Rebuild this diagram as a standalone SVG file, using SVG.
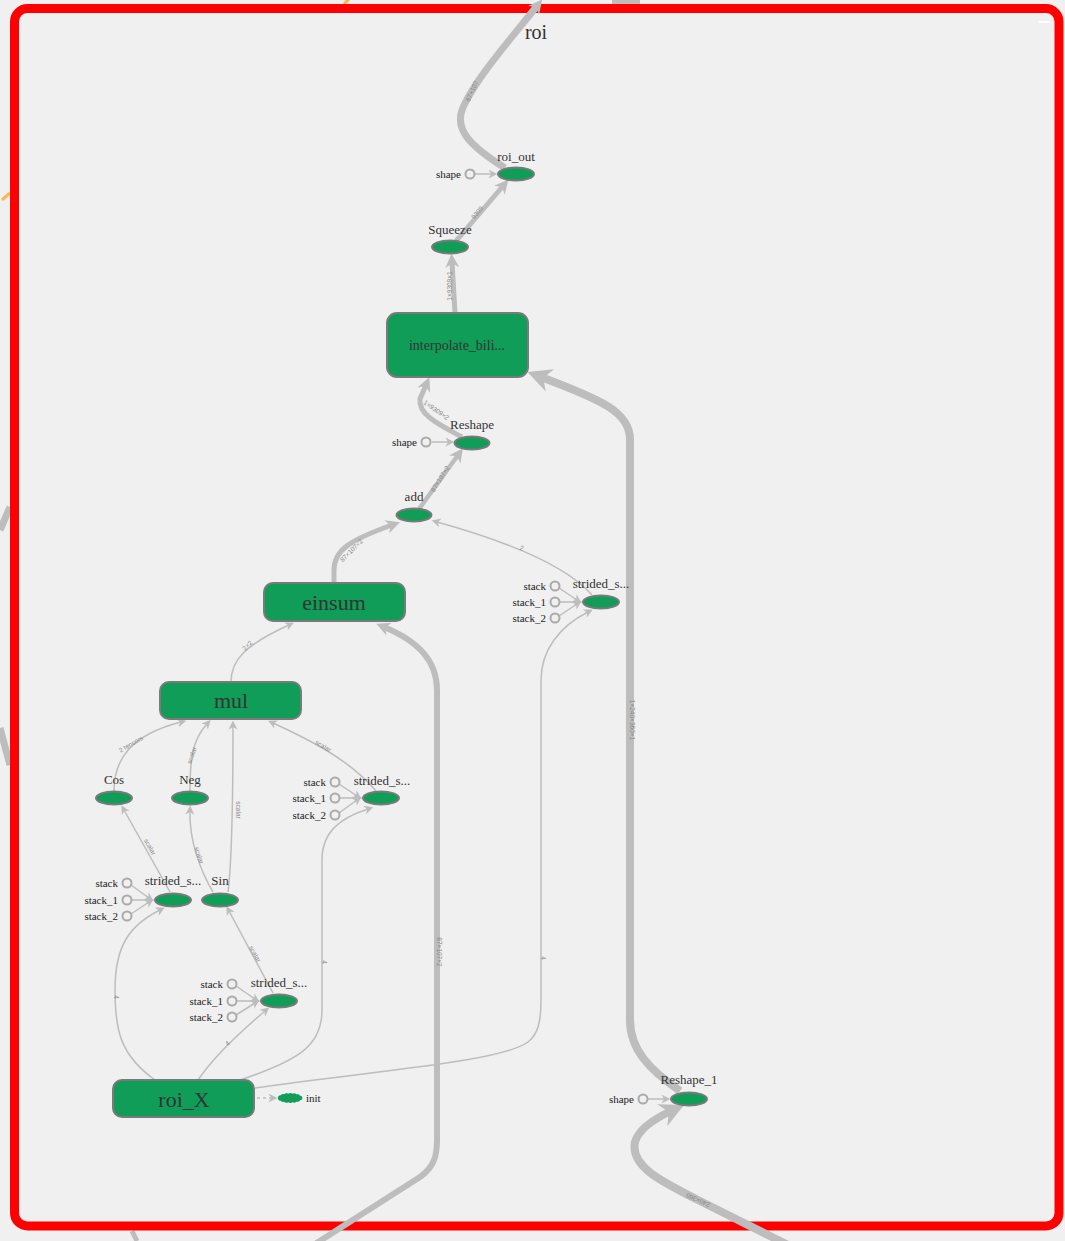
<svg xmlns="http://www.w3.org/2000/svg" width="1065" height="1241" viewBox="0 0 1065 1241">
<style>
  .bg{fill:#f0f0f0}
  .frame{fill:#f0f0f0;stroke:#ff0000;stroke-width:9}
  .op{fill:#0f9d58;stroke:#7a7a7a;stroke-width:2}
  .meta{fill:#0f9d58;stroke:#7a7a7a;stroke-width:2}
  .const{fill:none;stroke:#aaaaaa;stroke-width:2}
  .lbl{font-family:"Liberation Serif","Times New Roman",serif;font-size:13px;fill:#333;text-anchor:middle}
  .big{font-family:"Liberation Serif","Times New Roman",serif;font-size:22px;fill:#333;text-anchor:middle}
  .mid{font-family:"Liberation Serif","Times New Roman",serif;font-size:14px;fill:#333;text-anchor:middle}
  .sl{font-family:"Liberation Serif","Times New Roman",serif;font-size:11px;fill:#222;text-anchor:end}
  .el{font-family:"Liberation Sans",Arial,sans-serif;font-size:6.5px;fill:#888;text-anchor:middle}
  .e{fill:none;stroke:#bdbdbd}
  .thin{stroke-width:1.5}
</style>
<defs>
  <marker id="at" markerUnits="userSpaceOnUse" markerWidth="10" markerHeight="9" viewBox="0 0 10 10" refX="4" refY="5" orient="auto"><path d="M0,0 L10,5 L0,10 L3,5 z" fill="#bdbdbd"/></marker>
  <marker id="am" markerUnits="userSpaceOnUse" markerWidth="16" markerHeight="14" viewBox="0 0 10 10" refX="4" refY="5" orient="auto"><path d="M0,0 L10,5 L0,10 L3,5 z" fill="#bdbdbd"/></marker>
  <marker id="ab" markerUnits="userSpaceOnUse" markerWidth="26" markerHeight="24" viewBox="0 0 10 10" refX="4" refY="5" orient="auto"><path d="M0,0 L10,5 L0,10 L3,5 z" fill="#bdbdbd"/></marker>
</defs>
<rect class="bg" x="0" y="0" width="1065" height="1241"/>
<!-- fragments outside the frame -->
<g id="outside">
  <path d="M612,2 L640,2" stroke="#bdbdbd" stroke-width="5" fill="none"/>
  <path d="M344,4 L350,-2" stroke="#ffb74d" stroke-width="3" fill="none"/>
  <path d="M2,200 L10,193" stroke="#ffb74d" stroke-width="3" fill="none"/>
  <path d="M0,530 L10,507" stroke="#bdbdbd" stroke-width="7" fill="none"/>
  <path d="M0,728 L10,765" stroke="#bdbdbd" stroke-width="7" fill="none"/>
  <path d="M132,1231 L137,1241" stroke="#bdbdbd" stroke-width="5" fill="none"/>
</g>
<rect class="frame" x="14.5" y="8.5" width="1044.5" height="1217.5" rx="13"/>
<rect x="1039" y="21" width="11" height="2" fill="#ffffff"/>

<g id="connectors">
  <!-- roi_out -> roi (out) -->
  <path class="e" stroke-width="7" d="M505,168 C470,146 455,130 462,110 C474,80 514,35 537,6" marker-end="url(#am)"/>
  <text class="el" transform="translate(474,92) rotate(-65)">87×107</text>
  <!-- Squeeze -> roi_out -->
  <path class="e" stroke-width="5" d="M456,241 L503,186" marker-end="url(#am)"/>
  <text class="el" transform="translate(479,214) rotate(-50)">9309</text>
  <!-- interp -> Squeeze -->
  <path class="e" stroke-width="5" d="M455,313 L452,262" marker-end="url(#am)"/>
  <text class="el" transform="translate(452,286) rotate(-90)">1×9309×1</text>
  <!-- Reshape -> interp -->
  <path class="e" stroke-width="5" d="M462,437 C440,425 418,415 420,399 L426,385" marker-end="url(#am)"/>
  <text class="el" transform="translate(435,412) rotate(35)">1×9309×2</text>
  <!-- add -> Reshape -->
  <path class="e" stroke-width="4.5" d="M419,509 L458,455" marker-end="url(#am)"/>
  <text class="el" transform="translate(442,480) rotate(-58)">87×107×2</text>
  <!-- einsum -> add -->
  <path class="e" stroke-width="5" d="M334,583 L334,570 C334,550 350,540 392,525" marker-end="url(#am)"/>
  <text class="el" transform="translate(353,552) rotate(-45)">87×107×2</text>
  <!-- strided right -> add -->
  <path class="e thin" d="M592,595 C570,570 520,545 437,522" marker-end="url(#at)"/>
  <text class="el" transform="translate(521,550) rotate(20)">2</text>
  <!-- mul -> einsum -->
  <path class="e thin" d="M231,682 C231,660 245,645 289,625" marker-end="url(#at)"/>
  <text class="el" transform="translate(249,647) rotate(-45)">2×2</text>
  <!-- Cos -> mul -->
  <path class="e thin" d="M114,791 C114,760 130,735 181,722" marker-end="url(#at)"/>
  <text class="el" transform="translate(132,746) rotate(-30)">2 tensors</text>
  <!-- Neg -> mul -->
  <path class="e thin" d="M190,791 C190,760 192,740 207,724" marker-end="url(#at)"/>
  <text class="el" transform="translate(194,756) rotate(-72)">scalar</text>
  <!-- Sin -> mul -->
  <path class="e thin" d="M228,892 C232,860 233,800 233,726" marker-end="url(#at)"/>
  <text class="el" transform="translate(236,810) rotate(90)">scalar</text>
  <!-- strided mid -> mul -->
  <path class="e thin" d="M376,791 C350,760 310,740 273,723" marker-end="url(#at)"/>
  <text class="el" transform="translate(322,748) rotate(30)">scalar</text>
  <!-- strided ll -> Cos -->
  <path class="e thin" d="M170,892 L124,810" marker-end="url(#at)"/>
  <text class="el" transform="translate(148,848) rotate(60)">scalar</text>
  <!-- Sin -> Neg -->
  <path class="e thin" d="M213,892 C200,870 189,840 190,811" marker-end="url(#at)"/>
  <text class="el" transform="translate(197,856) rotate(72)">scalar</text>
  <!-- strided b -> Sin -->
  <path class="e thin" d="M273,993 L229,911" marker-end="url(#at)"/>
  <text class="el" transform="translate(253,955) rotate(60)">scalar</text>
  <!-- roi_X -> strided ll -->
  <path class="e thin" d="M155,1080 C120,1055 115,1030 115,990 C115,945 130,925 160,910" marker-end="url(#at)"/>
  <text class="el" transform="translate(114,997) rotate(90)">4</text>
  <!-- roi_X -> strided b -->
  <path class="e thin" d="M198,1080 C215,1055 240,1032 265,1011" marker-end="url(#at)"/>
  <text class="el" transform="translate(229,1045) rotate(-45)">4</text>
  <!-- roi_X -> strided mid -->
  <path class="e thin" d="M240,1080 C300,1060 322,1045 322,1010 L322,860 C322,832 340,818 368,809" marker-end="url(#at)"/>
  <text class="el" transform="translate(322,962) rotate(90)">4</text>
  <!-- roi_X -> strided right -->
  <path class="e thin" d="M255,1088 C380,1070 500,1062 528,1042 C538,1034 541,1022 541,1000 L541,680 C541,650 560,626 588,612" marker-end="url(#at)"/>
  <text class="el" transform="translate(541,958) rotate(90)">4</text>
  <!-- (input) -> einsum -->
  <path class="e" stroke-width="6" d="M312,1246 L420,1177 C434,1167 437,1156 437,1140 L437,690 C437,662 420,642 384,627" marker-end="url(#am)"/>
  <text class="el" transform="translate(437,952) rotate(90)">87×107×2</text>
  <!-- Reshape_1 -> interp -->
  <path class="e" stroke-width="8" d="M680,1091 C650,1070 630,1050 630,1020 L630,440 C630,412 602,400 541,377" marker-end="url(#ab)"/>
  <text class="el" transform="translate(630,720) rotate(90)">1×240×360×1</text>
  <!-- (input) -> Reshape_1 -->
  <path class="e" stroke-width="8" d="M798,1250 L700,1201 C660,1181 630,1166 635,1142 C639,1128 656,1118 671,1111" marker-end="url(#ab)"/>
  <text class="el" transform="translate(699,1198) rotate(205)">240×360</text>
  <!-- shape -> roi_out -->
  <path class="e thin" d="M475,174 L492,174" marker-end="url(#at)"/>
  <!-- shape -> Reshape -->
  <path class="e thin" d="M432,442 L449,442" marker-end="url(#at)"/>
  <!-- shape -> Reshape_1 -->
  <path class="e thin" d="M648,1099 L665,1099" marker-end="url(#at)"/>
  <!-- stacks right -->
  <path class="e thin" d="M559,588 L577,600" marker-end="url(#at)"/>
  <path class="e thin" d="M560,602 L577,602" marker-end="url(#at)"/>
  <path class="e thin" d="M559,616 L577,604" marker-end="url(#at)"/>
  <!-- stacks mid -->
  <path class="e thin" d="M339,784 L357,796" marker-end="url(#at)"/>
  <path class="e thin" d="M340,798 L357,798" marker-end="url(#at)"/>
  <path class="e thin" d="M339,813 L357,800" marker-end="url(#at)"/>
  <!-- stacks ll -->
  <path class="e thin" d="M131,885 L149,898" marker-end="url(#at)"/>
  <path class="e thin" d="M132,900 L149,900" marker-end="url(#at)"/>
  <path class="e thin" d="M131,914 L149,902" marker-end="url(#at)"/>
  <!-- stacks b -->
  <path class="e thin" d="M236,986 L255,999" marker-end="url(#at)"/>
  <path class="e thin" d="M237,1001 L255,1001" marker-end="url(#at)"/>
  <path class="e thin" d="M236,1015 L255,1003" marker-end="url(#at)"/>
  <!-- roi_X -> init (dashed) -->
  <path class="e thin" stroke-dasharray="3,3" d="M257,1098 L272,1098" marker-end="url(#at)"/>
</g>

<g id="roi"><text class="lbl" style="font-size:20px" x="536" y="39">roi</text></g>

<g id="roi_out">
  <ellipse class="op" cx="516" cy="174" rx="18" ry="6.5"/>
  <text class="lbl" x="516" y="161">roi_out</text>
  <circle class="const" cx="470" cy="174" r="4.5"/>
  <text class="sl" x="461" y="178">shape</text>
</g>

<g id="Squeeze">
  <ellipse class="op" cx="450" cy="247" rx="18" ry="6.5"/>
  <text class="lbl" x="450" y="234">Squeeze</text>
</g>

<g id="interpolate_bilinear">
  <rect class="op" x="387" y="313" width="141" height="64" rx="10"/>
  <text class="mid" x="457" y="350">interpolate_bili...</text>
</g>

<g id="Reshape">
  <ellipse class="op" cx="472" cy="443" rx="17.5" ry="6.5"/>
  <text class="lbl" x="472" y="429">Reshape</text>
  <circle class="const" cx="426" cy="442" r="4.5"/>
  <text class="sl" x="417" y="446">shape</text>
</g>

<g id="add">
  <ellipse class="op" cx="414" cy="515" rx="17.5" ry="6.5"/>
  <text class="lbl" x="414" y="501">add</text>
</g>

<g id="einsum">
  <rect class="op" x="264" y="583" width="141" height="38" rx="9"/>
  <text class="big" x="334" y="610">einsum</text>
</g>

<g id="strided_slice_right">
  <ellipse class="op" cx="601" cy="602" rx="18" ry="6.5"/>
  <text class="lbl" x="601" y="588">strided_s...</text>
  <circle class="const" cx="555" cy="586" r="4.5"/>
  <circle class="const" cx="555" cy="602" r="4.5"/>
  <circle class="const" cx="555" cy="618" r="4.5"/>
  <text class="sl" x="546" y="590">stack</text>
  <text class="sl" x="546" y="606">stack_1</text>
  <text class="sl" x="546" y="622">stack_2</text>
</g>

<g id="mul">
  <rect class="op" x="160" y="682" width="141" height="37" rx="9"/>
  <text class="big" x="231" y="708">mul</text>
</g>

<g id="Cos">
  <ellipse class="op" cx="114" cy="798" rx="18" ry="6.5"/>
  <text class="lbl" x="114" y="784">Cos</text>
</g>

<g id="Neg">
  <ellipse class="op" cx="190" cy="798" rx="18" ry="6.5"/>
  <text class="lbl" x="190" y="784">Neg</text>
</g>

<g id="strided_slice_mid">
  <ellipse class="op" cx="381" cy="798" rx="18" ry="6.5"/>
  <text class="lbl" x="382" y="785">strided_s...</text>
  <circle class="const" cx="335" cy="782" r="4.5"/>
  <circle class="const" cx="335" cy="798" r="4.5"/>
  <circle class="const" cx="335" cy="815" r="4.5"/>
  <text class="sl" x="326" y="786">stack</text>
  <text class="sl" x="326" y="802">stack_1</text>
  <text class="sl" x="326" y="819">stack_2</text>
</g>

<g id="strided_slice_ll">
  <ellipse class="op" cx="173" cy="900" rx="18" ry="6.5"/>
  <text class="lbl" x="173" y="885">strided_s...</text>
  <circle class="const" cx="127" cy="883" r="4.5"/>
  <circle class="const" cx="127" cy="900" r="4.5"/>
  <circle class="const" cx="127" cy="916" r="4.5"/>
  <text class="sl" x="118" y="887">stack</text>
  <text class="sl" x="118" y="904">stack_1</text>
  <text class="sl" x="118" y="920">stack_2</text>
</g>

<g id="Sin">
  <ellipse class="op" cx="220" cy="900" rx="18" ry="6.5"/>
  <text class="lbl" x="220" y="885">Sin</text>
</g>

<g id="strided_slice_b">
  <ellipse class="op" cx="279" cy="1001" rx="18" ry="6.5"/>
  <text class="lbl" x="279" y="987">strided_s...</text>
  <circle class="const" cx="232" cy="984" r="4.5"/>
  <circle class="const" cx="232" cy="1001" r="4.5"/>
  <circle class="const" cx="232" cy="1017" r="4.5"/>
  <text class="sl" x="223" y="988">stack</text>
  <text class="sl" x="223" y="1005">stack_1</text>
  <text class="sl" x="223" y="1021">stack_2</text>
</g>

<g id="roi_X">
  <rect class="op" x="113" y="1080" width="141" height="37" rx="9"/>
  <text class="big" x="184" y="1107">roi_X</text>
</g>

<g id="init">
  <ellipse cx="290" cy="1098" rx="12" ry="4.5" fill="#0f9d58" stroke="#0f9d58" stroke-width="1" stroke-dasharray="2,2"/>
  <text class="lbl" style="font-size:11px;text-anchor:start;fill:#222" x="306" y="1102">init</text>
</g>

<g id="Reshape_1">
  <ellipse class="op" cx="689" cy="1099" rx="18" ry="6.5"/>
  <text class="lbl" x="689" y="1084">Reshape_1</text>
  <circle class="const" cx="643" cy="1099" r="4.5"/>
  <text class="sl" x="634" y="1103">shape</text>
</g>
</svg>
